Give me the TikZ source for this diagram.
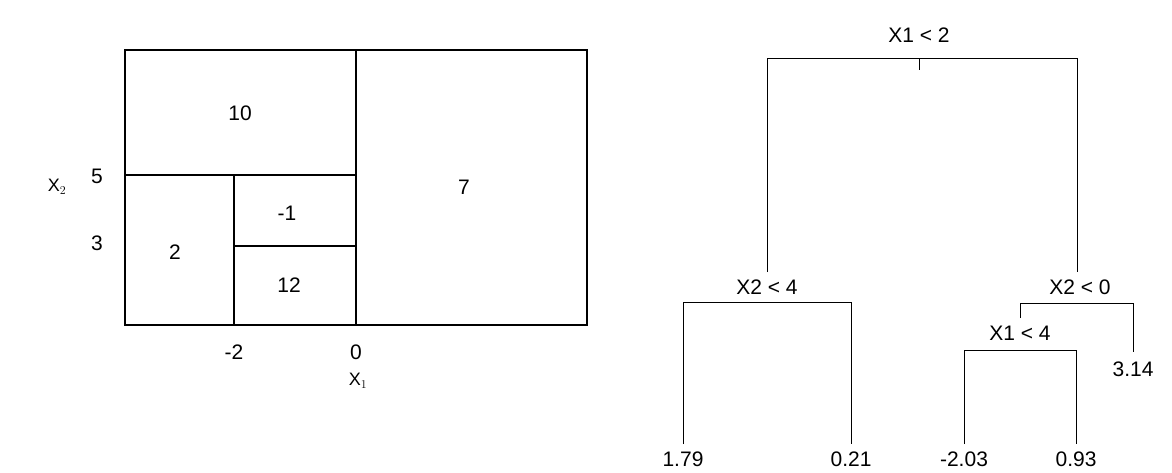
\documentclass[tikz,border=0pt]{standalone}
\usepackage{fontspec}
\setmainfont{Liberation Sans}
\begin{document}
\begin{tikzpicture}[x=1pt,y=-1pt,
  lbl/.style={font=\fontsize{21}{25}\selectfont,inner sep=0pt},
  ax/.style={font=\fontsize{18}{21}\selectfont,inner sep=0pt},
  part/.style={line width=1.4pt},
  tr/.style={line width=0.7pt}]
\useasboundingbox (0,0) rectangle (1172,472);
% partition
\draw[part] (125,50) rectangle (587,325);
\draw[part] (356,50) -- (356,325);
\draw[part] (125,175) -- (356,175);
\draw[part] (234,175) -- (234,325);
\draw[part] (234,246) -- (356,246);
\node[lbl] (r10) at (240,113) {10};
\node[lbl] (r7) at (464,187) {7};
\node[lbl] (rm1) at (287,213) {-1};
\node[lbl] (r2) at (175,252) {2};
\node[lbl] (r12) at (289,285) {12};
\node[ax] (x2) at (57,187) {X$_{\scriptstyle 2}$};
\node[lbl] (t5) at (97,176) {5};
\node[lbl] (t3) at (97,243) {3};
\node[lbl] (tm2) at (234,352) {-2};
\node[lbl] (t0) at (356,352) {0};
\node[ax] (x1) at (358,381) {X$_{\scriptstyle 1}$};
% tree
\node[lbl] (n0) at (919,35) {X1 < 2};
\node[lbl] (n1) at (767,287) {X2 < 4};
\node[lbl] (n2) at (1080,287) {X2 < 0};
\node[lbl] (n3) at (1020,333) {X1 < 4};
\node[lbl] (l1) at (683,459) {1.79};
\node[lbl] (l2) at (851,459) {0.21};
\node[lbl] (l3) at (964,459) {-2.03};
\node[lbl] (l4) at (1076,459) {0.93};
\node[lbl] (l5) at (1133,369) {3.14};
\coordinate (c0) at (919,58);
\draw[tr] (c0) -- (919,70);
\draw[tr] (767,272) -- (767,58) -- (1077,58) -- (1077,272);
\draw[tr] (683,444) -- (683,302) -- (851,302) -- (851,444);
\draw[tr] (1020,318) -- (1020,303) -- (1133,303) -- (1133,352);
\draw[tr] (964,444) -- (964,350) -- (1076,350) -- (1076,444);
\end{tikzpicture}
\end{document}
